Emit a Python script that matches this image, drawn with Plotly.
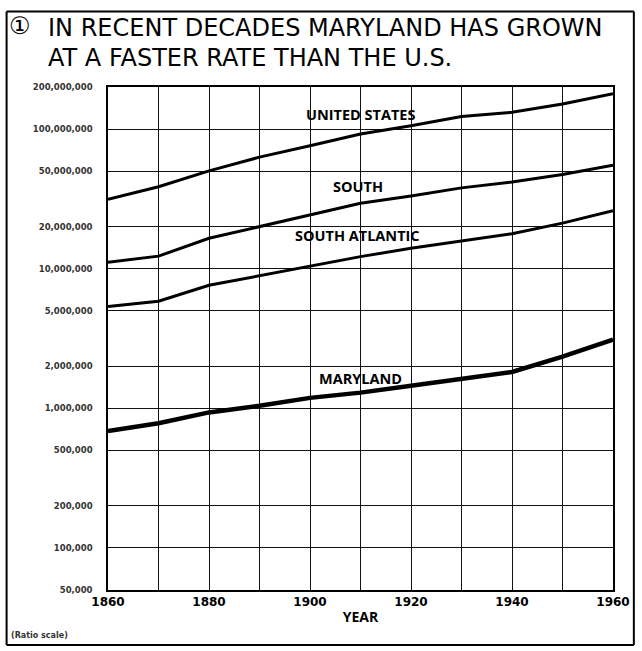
import math
import plotly.graph_objects as go

years = [1860, 1870, 1880, 1890, 1900, 1910, 1920, 1930, 1940, 1950, 1960]
united_states = [31.4e6, 38.6e6, 50.2e6, 62.9e6, 76.0e6, 92.0e6, 105.7e6, 122.8e6, 131.7e6, 151.3e6, 179.3e6]
south = [11.1e6, 12.3e6, 16.5e6, 20.0e6, 24.5e6, 29.4e6, 33.1e6, 37.9e6, 41.7e6, 47.2e6, 55.0e6]
south_atlantic = [5.36e6, 5.85e6, 7.6e6, 8.9e6, 10.4e6, 12.2e6, 14.0e6, 15.8e6, 17.8e6, 21.2e6, 26.0e6]
maryland = [687e3, 781e3, 935e3, 1042e3, 1188e3, 1295e3, 1450e3, 1632e3, 1821e3, 2343e3, 3101e3]

y_tick_vals = [50e3, 100e3, 200e3, 500e3, 1e6, 2e6, 5e6, 10e6, 20e6, 50e6, 100e6, 200e6]
y_tick_text = ["50,000", "100,000", "200,000", "500,000", "1,000,000", "2,000,000",
               "5,000,000", "10,000,000", "20,000,000", "50,000,000", "100,000,000", "200,000,000"]
x_tick_vals = [1860, 1870, 1880, 1890, 1900, 1910, 1920, 1930, 1940, 1950, 1960]
x_tick_text = ["1860", "", "1880", "", "1900", "", "1920", "", "1940", "", "1960"]

series = [
    ("UNITED STATES", united_states, 3),
    ("SOUTH", south, 3),
    ("SOUTH ATLANTIC", south_atlantic, 3),
    ("MARYLAND", maryland, 4.5),
]

# series labels: (text, year, value)
labels = [
    ("UNITED STATES", 1910, 128e6),
    ("SOUTH", 1909.5, 38.5e6),
    ("SOUTH ATLANTIC", 1909.5, 17.4e6),
    ("MARYLAND", 1910, 1.64e6),
]

fig = go.Figure()
for name, vals, w in series:
    fig.add_trace(go.Scatter(x=years, y=vals, mode="lines", name=name,
                             line=dict(color="black", width=w), showlegend=False))

label_font = dict(family="Open Sans, DejaVu Sans, sans-serif", size=14.5, color="black", weight="bold")
for text, x, y in labels:
    fig.add_annotation(x=x, y=math.log10(y), xref="x", yref="y", yanchor="middle", text=text,
                       showarrow=False, font=label_font)

fig.update_xaxes(range=[1860, 1960], tickvals=x_tick_vals, ticktext=x_tick_text,
                 showgrid=True, gridcolor="#111", gridwidth=1,
                 showline=True, linecolor="black", linewidth=1.5, mirror=True,
                 ticks="", tickfont=dict(family="DejaVu Sans, sans-serif", size=12, color="black", weight="bold"),
                 zeroline=False,
                 title=dict(text="YEAR", font=dict(family="Open Sans, DejaVu Sans, sans-serif", size=14,
                                                   color="black", weight="bold"), standoff=4))
fig.update_yaxes(type="log", range=[math.log10(50e3), math.log10(200e6)], tickvals=y_tick_vals,
                 ticktext=y_tick_text,
                 showgrid=True, gridcolor="#111", gridwidth=1,
                 showline=True, linecolor="black", linewidth=1.5, mirror=True,
                 ticks="", ticklabelstandoff=12,
                 tickfont=dict(family="DejaVu Sans, sans-serif", size=8.5, color="#333", weight="bold"),
                 zeroline=False)

title_font = dict(family="DejaVu Sans, sans-serif", size=24, color="black")
fig.add_annotation(xref="paper", yref="paper", x=-0.122, y=1.117, xanchor="left", yanchor="middle",
                   text="IN RECENT DECADES MARYLAND HAS GROWN", showarrow=False, font=title_font)
fig.add_annotation(xref="paper", yref="paper", x=-0.122, y=1.058, xanchor="left", yanchor="middle",
                   text="AT A FASTER RATE THAN THE U.S.", showarrow=False, font=title_font)
fig.add_annotation(xref="paper", yref="paper", x=-0.200, y=1.122, xanchor="left", yanchor="middle",
                   text="①", showarrow=False,
                   font=dict(family="DejaVu Sans, sans-serif", size=24, color="black"))
fig.add_annotation(xref="paper", yref="paper", x=-0.197, y=-0.090, xanchor="left", yanchor="middle",
                   text="(Ratio scale)", showarrow=False,
                   font=dict(family="DejaVu Sans, sans-serif", size=8, color="#333", weight="bold"))

frame = dict(xref="paper", yref="paper", line=dict(color="black", width=2), layer="above")
fig.update_layout(
    width=642, height=651,
    margin=dict(l=108, r=26, t=87, b=61),
    paper_bgcolor="white", plot_bgcolor="white",
    shapes=[
        dict(type="line", x0=-0.2008, x1=1.0413, y0=1.150, y1=1.150, **frame),
        dict(type="line", x0=-0.2008, x1=1.0413, y0=-0.1093, y1=-0.1093, **frame),
        dict(type="line", x0=-0.2008, x1=-0.2008, y0=-0.1093, y1=1.150, **frame),
        dict(type="line", x0=1.0413, x1=1.0413, y0=-0.1093, y1=1.150, **frame),
    ],
)

fig.write_html("out.html", config={"displayModeBar": False},
               post_script="document.body.style.margin='0px';")
